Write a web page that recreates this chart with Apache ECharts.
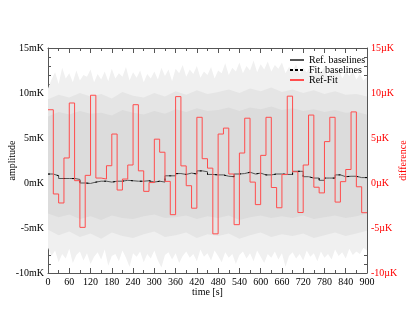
<!DOCTYPE html>
<html>
<head>
<meta charset="utf-8">
<script src="https://cdn.jsdelivr.net/npm/echarts@6/dist/echarts.min.js"></script>
<style>
html,body{margin:0;padding:0;background:#fff;}
#chart{width:415px;height:321px;}
</style>
</head>
<body>
<div id="chart"></div>
<script>
// start time of each 15 s baseline segment [s]
const segStart = [0,15,30,45,60,75,90,105,120,135,150,165,180,195,210,225,240,255,270,285,
  300,315,330,345,360,375,390,405,420,435,450,465,480,495,510,525,540,555,570,585,
  600,615,630,645,660,675,690,705,720,735,750,765,780,795,810,825,840,855,870,885];
const tEnd = 900;

// reference baselines [mK]
const refBase = [1.0,0.8,0.5,0.5,0.5,0.4,0.0,-0.05,0.1,0.2,0.2,0.1,0.2,0.2,0.3,0.25,0.2,0.2,0.25,0.1,
  0.2,0.1,0.8,0.8,1.05,0.95,1.1,1.0,1.35,1.25,0.95,0.9,0.9,0.75,0.7,1.0,1.05,1.2,1.0,1.1,
  0.9,0.9,1.0,1.0,0.95,0.95,1.3,1.3,0.7,0.55,0.55,0.3,0.55,0.55,0.9,0.7,0.75,0.75,0.6,0.6];

// Ref-Fit [µK]
const diff = [8.14,-1.22,-2.22,2.78,8.89,0.26,-4.93,0.85,9.75,0.55,0.44,1.92,5.44,-0.78,0.44,2.0,8.7,1.35,-0.93,0.05,
  4.87,3.42,0.18,-3.52,9.6,1.9,-0.3,-2.8,7.3,2.7,1.65,-5.65,5.44,6.1,1.0,-4.63,3.33,7.2,0.1,-2.4,
  3.07,7.3,-0.5,-2.75,0.94,9.65,1.25,-3.28,2.0,7.55,-0.47,-1.1,4.6,7.3,-2.12,0.15,1.5,7.9,-0.42,-3.3];

// raw signal envelope, sampled every 10 s [mK]
const noiseT = [0,10,20,30,40,50,60,70,80,90,100,110,120,130,140,150,160,170,180,190,
  200,210,220,230,240,250,260,270,280,290,300,310,320,330,340,350,360,370,380,390,
  400,410,420,430,440,450,460,470,480,490,500,510,520,530,540,550,560,570,580,590,
  600,610,620,630,640,650,660,670,680,690,700,710,720,730,740,750,760,770,780,790,
  800,810,820,830,840,850,860,870,880,890,900];
const noiseHi = [10.5,11.5,12.3,11.0,12.8,11.6,12.2,11.2,12.5,11.4,12.0,11.8,12.6,11.2,12.1,11.5,12.4,11.3,12.7,11.6,
  12.2,11.8,12.9,11.4,12.3,11.7,12.5,11.2,12.1,11.6,12.4,11.5,12.8,11.9,12.6,11.3,12.7,12.2,13.1,11.8,
  12.6,12.1,13.0,11.7,12.4,12.0,12.9,11.6,12.5,12.2,13.3,12.0,12.8,12.4,13.4,12.2,13.0,12.5,13.6,12.3,
  13.2,12.6,13.5,12.4,13.1,12.7,13.4,12.2,12.9,12.5,13.2,12.1,12.8,12.3,13.0,11.9,12.6,12.2,12.9,11.8,
  12.5,12.1,12.7,11.6,12.3,11.9,12.4,11.5,12.1,11.4,11.8];
const noiseLo = [-7.2,-8.1,-7.5,-8.8,-7.9,-8.4,-7.3,-8.9,-8.0,-7.6,-8.6,-7.8,-9.0,-8.2,-7.7,-8.5,-7.4,-9.2,-8.1,-7.9,
  -8.7,-7.5,-8.3,-9.3,-7.8,-8.2,-7.6,-8.8,-7.9,-8.4,-7.5,-8.6,-9.4,-8.0,-7.7,-8.5,-7.8,-8.9,-8.1,-7.6,
  -8.3,-7.9,-8.7,-7.4,-8.2,-7.8,-8.6,-7.5,-8.1,-8.8,-7.7,-8.3,-7.9,-9.0,-8.0,-7.6,-8.4,-7.8,-8.7,-7.5,
  -8.2,-8.9,-7.9,-8.3,-7.6,-8.5,-7.8,-9.3,-8.1,-7.7,-8.4,-7.9,-8.6,-7.5,-8.2,-7.8,-8.7,-7.6,-8.3,-7.9,
  -8.5,-7.4,-8.1,-7.7,-8.4,-7.3,-8.0,-7.6,-7.9,-7.2,-7.5];

// denser part of the signal, sampled every 30 s [mK]
const coreT = [0,30,60,90,120,150,180,210,240,270,300,330,360,390,420,450,480,510,540,570,
  600,630,660,690,720,750,780,810,840,870,900];
const midHi = [9.3,9.8,9.5,10.0,9.6,9.9,9.4,10.1,9.7,9.5,10.0,9.6,10.2,9.8,10.3,9.9,10.1,10.4,10.0,10.5,
  10.2,10.6,10.1,10.4,10.0,10.3,9.9,10.2,9.8,9.9,9.6];
const midLo = [-5.2,-5.8,-5.4,-6.0,-5.6,-6.2,-5.5,-5.9,-6.1,-5.7,-5.4,-6.0,-5.8,-5.5,-6.1,-5.7,-5.9,-5.6,-6.2,-5.8,
  -5.5,-6.0,-5.7,-5.9,-5.6,-6.1,-5.8,-5.5,-5.9,-5.6,-5.3];
const coreHi = [7.4,7.9,7.6,8.0,7.7,7.8,7.5,8.1,7.8,7.6,8.0,7.7,8.2,7.9,8.3,8.0,8.1,8.4,8.0,8.4,
  8.2,8.5,8.1,8.3,8.0,8.2,7.9,8.1,7.8,7.9,7.6];
const coreLo = [-3.4,-3.8,-3.5,-4.0,-3.7,-4.1,-3.6,-3.9,-4.0,-3.7,-3.5,-3.9,-3.8,-3.6,-4.0,-3.7,-3.9,-3.6,-4.1,-3.8,
  -3.6,-3.9,-3.7,-3.9,-3.6,-4.0,-3.8,-3.6,-3.9,-3.7,-3.4];

const serif = 'Liberation Serif';

function stepData(vals) {
  let d = segStart.map((t, i) => [t, vals[i]]);
  d.push([tEnd, vals[vals.length - 1]]);
  return d;
}
// filled band between lo and hi, placed with the axis scales
function band(ts, lo, hi, color) {
  return {
    type: 'custom', silent: true, z: 1,
    data: [[0, 0]],
    renderItem: function (params, api) {
      let pts = [];
      ts.forEach((t, i) => pts.push(api.coord([t, hi[i]])));
      for (let i = ts.length - 1; i >= 0; i--) pts.push(api.coord([ts[i], lo[i]]));
      return {type: 'polygon', shape: {points: pts}, style: {fill: color}};
    }
  };
}

const fitBase = refBase.map((v, i) => v - diff[i] / 1000);

let myChart = echarts.init(document.getElementById('chart'));
const axisCol = '#555';
const option = {
  animation: false,
  grid: {left: 48, right: 48, top: 48, bottom: 48, outerBoundsMode: 'none', containLabel: false},
  legend: {
    orient: 'vertical',
    left: 289, top: 55,
    padding: 0,
    itemGap: 0,
    itemWidth: 14, itemHeight: 9,
    itemStyle: {opacity: 0},
    textStyle: {fontFamily: serif, fontSize: 10, color: '#000', lineHeight: 10},
    data: [
      'Ref. baselines',
      {name: 'Fit. baselines', lineStyle: {type: [3, 2]}},
      'Ref-Fit'
    ]
  },
  xAxis: [
    {
      type: 'value', min: 0, max: 900, interval: 60, position: 'bottom',
      name: 'time [s]', nameLocation: 'middle', nameGap: 14, nameMoveOverlap: false,
      nameTextStyle: {fontFamily: serif, fontSize: 10, color: '#000'},
      axisLine: {onZero: false, lineStyle: {color: axisCol}},
      axisTick: {inside: true, length: 5, lineStyle: {color: axisCol}},
      minorTick: {show: true, splitNumber: 2, length: 3, lineStyle: {color: axisCol}},
      axisLabel: {fontFamily: serif, fontSize: 10, color: '#000', margin: 4},
      splitLine: {show: false}
    },
    {
      type: 'value', min: 0, max: 900, interval: 60, position: 'top',
      axisLine: {onZero: false, lineStyle: {color: axisCol}},
      axisTick: {inside: true, length: 5, lineStyle: {color: axisCol}},
      minorTick: {show: true, splitNumber: 2, length: 3, lineStyle: {color: axisCol}},
      axisLabel: {show: false},
      splitLine: {show: false}
    }
  ],
  yAxis: [
    {
      type: 'value', min: -10, max: 15, interval: 5, position: 'left',
      name: 'amplitude', nameLocation: 'middle', nameGap: 31, nameRotate: 90, nameMoveOverlap: false,
      nameTextStyle: {fontFamily: serif, fontSize: 10, color: '#000'},
      axisLine: {show: true, onZero: false, lineStyle: {color: axisCol}},
      axisTick: {show: true, inside: true, length: 6, lineStyle: {color: axisCol}},
      minorTick: {show: true, splitNumber: 5, length: 3, lineStyle: {color: axisCol}},
      axisLabel: {fontFamily: serif, fontSize: 10, color: '#000', margin: 4,
        formatter: v => v + 'mK'},
      splitLine: {show: false}
    },
    {
      type: 'value', min: -10, max: 15, interval: 5, position: 'right',
      name: 'difference', nameLocation: 'middle', nameGap: 31, nameRotate: 90, nameMoveOverlap: false,
      nameTextStyle: {fontFamily: serif, fontSize: 10, color: '#ff0000'},
      axisLine: {show: true, onZero: false, lineStyle: {color: axisCol}},
      axisTick: {show: true, inside: true, length: 6, lineStyle: {color: axisCol}},
      minorTick: {show: true, splitNumber: 5, length: 3, lineStyle: {color: axisCol}},
      axisLabel: {fontFamily: serif, fontSize: 10, color: '#ff0000', margin: 4,
        formatter: v => v + 'µK'},
      splitLine: {show: false}
    }
  ],
  series: [
    band(noiseT, noiseLo, noiseHi, '#f0f0f0'),
    band(coreT, midLo, midHi, '#e5e5e5'),
    band(coreT, coreLo, coreHi, '#dcdcdc'),
    {
      name: 'Ref. baselines', type: 'line', step: 'end', symbol: 'none', z: 3,
      lineStyle: {color: '#555', width: 1},
      itemStyle: {color: '#555'},
      data: stepData(refBase)
    },
    {
      name: 'Fit. baselines', type: 'line', step: 'end', symbol: 'none', z: 4,
      lineStyle: {color: '#000', width: 1, type: [2, 7]},
      itemStyle: {color: '#000'},
      data: stepData(fitBase)
    },
    {
      name: 'Ref-Fit', type: 'line', step: 'end', symbol: 'none', yAxisIndex: 1, z: 5,
      lineStyle: {color: '#ff4d4d', width: 1},
      itemStyle: {color: '#ff4d4d'},
      data: stepData(diff)
    }
  ]
};
myChart.setOption(option);
</script>
</body>
</html>
